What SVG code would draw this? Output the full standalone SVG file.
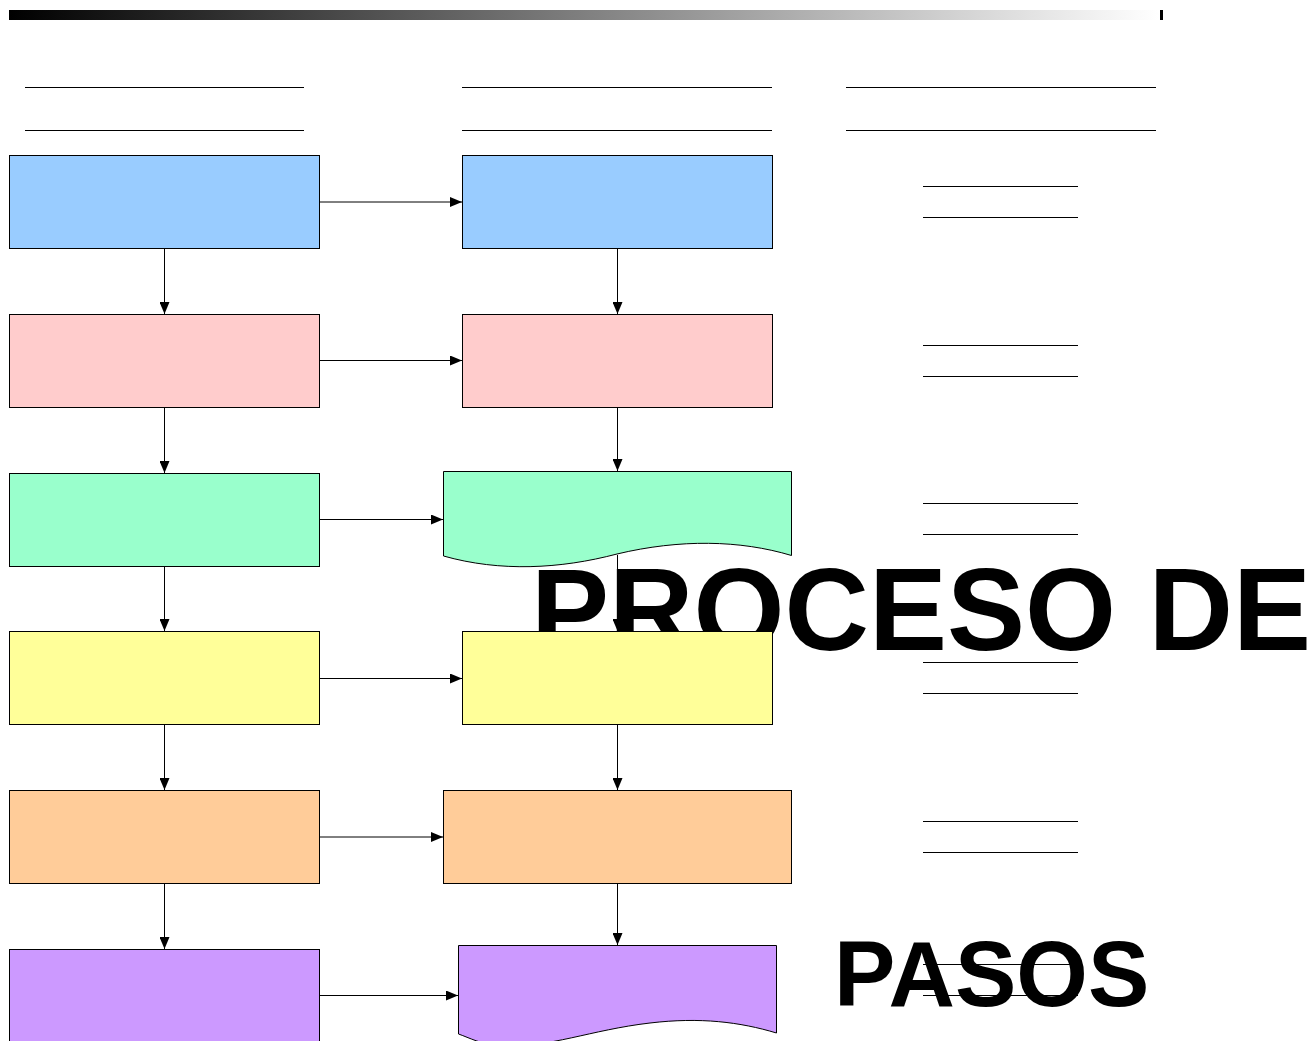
<svg xmlns="http://www.w3.org/2000/svg" width="1315" height="1041" viewBox="0 0 1315 1041">
<defs>
<linearGradient id="bar" x1="0" y1="0" x2="1" y2="0">
<stop offset="0" stop-color="#000"/>
<stop offset="1" stop-color="#fff"/>
</linearGradient>
<marker id="ah" viewBox="0 0 12 10" refX="12" refY="5" markerWidth="12" markerHeight="10" markerUnits="userSpaceOnUse" orient="auto">
<path d="M0,0 L12,5 L0,10 Z" fill="#000"/>
</marker>
<style>
.box{stroke:#000;stroke-width:1}
.ln{stroke:#000;stroke-width:1;fill:none}
.cn{stroke:#000;stroke-width:1;fill:none;marker-end:url(#ah)}
.big{font-family:"Liberation Sans",Arial,sans-serif;font-weight:bold;fill:#000}
</style>
</defs>
<rect width="1315" height="1041" fill="#fff"/>
<g id="header-bar">
<rect x="9" y="10" width="1150" height="10" fill="url(#bar)"/>
<rect x="1160" y="10" width="3" height="10" fill="#000"/>
</g>
<g id="rule-lines">
<line class="ln" x1="25" y1="87.5" x2="304" y2="87.5"/>
<line class="ln" x1="25" y1="130.5" x2="304" y2="130.5"/>
<line class="ln" x1="462" y1="87.5" x2="772" y2="87.5"/>
<line class="ln" x1="462" y1="130.5" x2="772" y2="130.5"/>
<line class="ln" x1="846" y1="87.5" x2="1156" y2="87.5"/>
<line class="ln" x1="846" y1="130.5" x2="1156" y2="130.5"/>
<line class="ln" x1="923" y1="186.5" x2="1078" y2="186.5"/>
<line class="ln" x1="923" y1="217.5" x2="1078" y2="217.5"/>
<line class="ln" x1="923" y1="345.5" x2="1078" y2="345.5"/>
<line class="ln" x1="923" y1="376.5" x2="1078" y2="376.5"/>
<line class="ln" x1="923" y1="503.5" x2="1078" y2="503.5"/>
<line class="ln" x1="923" y1="534.5" x2="1078" y2="534.5"/>
<line class="ln" x1="923" y1="662.5" x2="1078" y2="662.5"/>
<line class="ln" x1="923" y1="693.5" x2="1078" y2="693.5"/>
<line class="ln" x1="923" y1="821.5" x2="1078" y2="821.5"/>
<line class="ln" x1="923" y1="852.5" x2="1078" y2="852.5"/>
<line class="ln" x1="923" y1="964.5" x2="1078" y2="964.5"/>
<line class="ln" x1="923" y1="995.5" x2="1078" y2="995.5"/>
</g>
<g id="connectors">
<line class="cn" x1="319" y1="202" x2="462" y2="202"/>
<line class="cn" x1="319" y1="360.5" x2="462" y2="360.5"/>
<line class="cn" x1="319" y1="519.5" x2="443" y2="519.5"/>
<line class="cn" x1="319" y1="678.5" x2="462" y2="678.5"/>
<line class="cn" x1="319" y1="837" x2="443" y2="837"/>
<line class="cn" x1="319" y1="995.5" x2="458" y2="995.5"/>
<line class="cn" x1="164.5" y1="248" x2="164.5" y2="314"/>
<line class="cn" x1="164.5" y1="407" x2="164.5" y2="473"/>
<line class="cn" x1="164.5" y1="566" x2="164.5" y2="631"/>
<line class="cn" x1="164.5" y1="724" x2="164.5" y2="790"/>
<line class="cn" x1="164.5" y1="883" x2="164.5" y2="949"/>
<line class="cn" x1="617.5" y1="248" x2="617.5" y2="314"/>
<line class="cn" x1="617.5" y1="407" x2="617.5" y2="471"/>
<line class="cn" x1="617.5" y1="555" x2="617.5" y2="631"/>
<line class="cn" x1="617.5" y1="724" x2="617.5" y2="790"/>
<line class="cn" x1="617.5" y1="883" x2="617.5" y2="945"/>
</g>
<g id="title">
<text class="big" x="531" y="650" font-size="117">PROCESO DE</text>
<text class="big" x="834" y="1006" font-size="92">PASOS</text>
</g>
<g id="node-l1"><rect class="box" x="9.5" y="155.5" width="310" height="93" fill="#99ccff"/></g>
<g id="node-r1"><rect class="box" x="462.5" y="155.5" width="310" height="93" fill="#99ccff"/></g>
<g id="node-l2"><rect class="box" x="9.5" y="314.5" width="310" height="93" fill="#ffcccc"/></g>
<g id="node-r2"><rect class="box" x="462.5" y="314.5" width="310" height="93" fill="#ffcccc"/></g>
<g id="node-l3"><rect class="box" x="9.5" y="473.5" width="310" height="93" fill="#99ffcc"/></g>
<g id="node-r3"><path class="box" d="M443.5,471.5 H791.5 V555.5 C740,540 680,539 617,554 C560,569 500,572 443.5,556 Z" fill="#99ffcc"/></g>
<g id="node-l4"><rect class="box" x="9.5" y="631.5" width="310" height="93" fill="#ffff99"/></g>
<g id="node-r4"><rect class="box" x="462.5" y="631.5" width="310" height="93" fill="#ffff99"/></g>
<g id="node-l5"><rect class="box" x="9.5" y="790.5" width="310" height="93" fill="#ffcc99"/></g>
<g id="node-r5"><rect class="box" x="443.5" y="790.5" width="348" height="93" fill="#ffcc99"/></g>
<g id="node-l6"><rect class="box" x="9.5" y="949.5" width="310" height="100" fill="#cc99ff"/></g>
<g id="node-r6"><path class="box" d="M458.5,945.5 H776.5 V1033 C740,1022 700,1017 650,1023 C590,1030 550,1048 500,1046 C480,1044 470,1038 458.5,1034 Z" fill="#cc99ff"/></g>
</svg>
